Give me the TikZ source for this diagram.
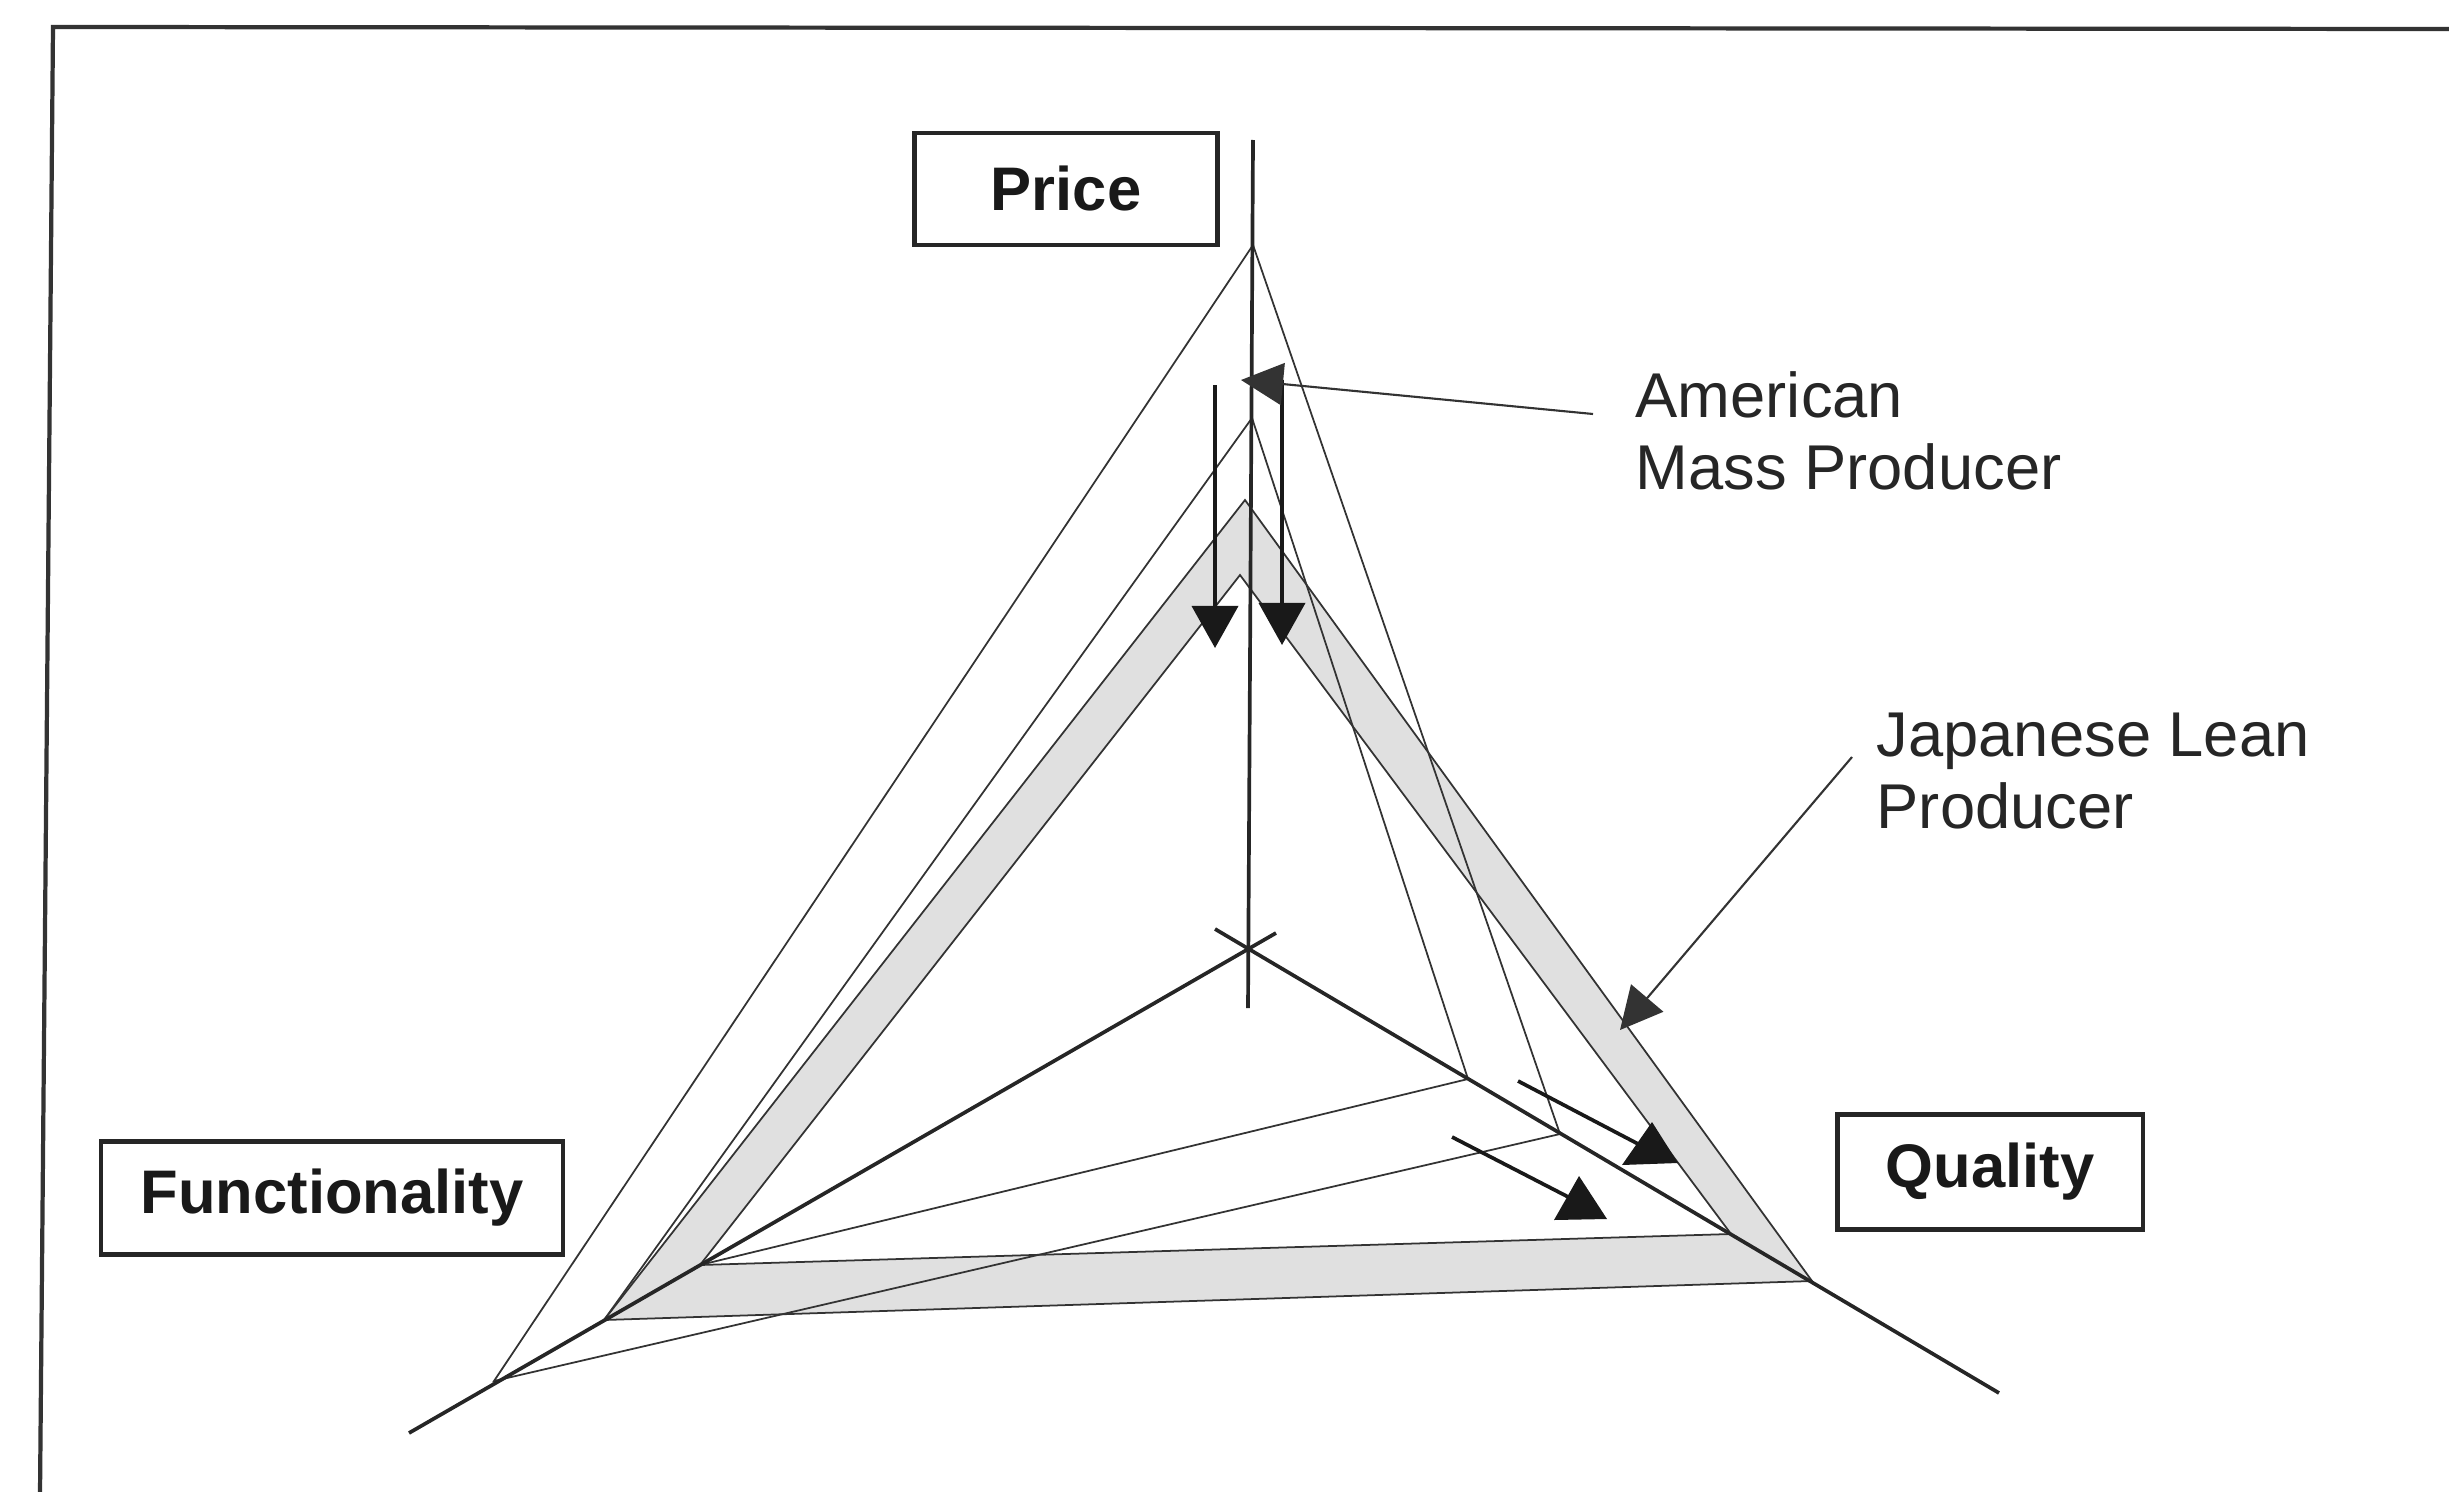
\documentclass[tikz,border=0pt]{standalone}
\usepackage{fontspec}
\setmainfont{Liberation Sans}
\usetikzlibrary{arrows.meta}
\begin{document}
\begin{tikzpicture}[x=0.01cm,y=-0.01cm,
  axisline/.style={line width=1.05pt, black!85},
  thinline/.style={line width=0.5pt, black!80},
  bandfill/.style={fill=black!12},
  labelbox/.style={draw, line width=1.2pt, black!85, text=black!90,
    font=\bfseries\fontsize{17.5}{20}\selectfont, inner sep=0pt},
  legend/.style={font=\fontsize{18}{20.5}\selectfont, text=black!85,
    align=left, anchor=north west, inner sep=0pt},
  bigtip/.style={line width=1.05pt, black!90,
    -{Triangle[width=0.46cm,length=0.42cm]}},
  shaft/.style={line width=1.05pt, black!90},
  headfill/.style={fill=black!90},
  pointer/.style={line width=0.6pt, black!80,
    -{Triangle[width=0.42cm,length=0.42cm]}},
]
\useasboundingbox (0,0) rectangle (2449,1491);

% outer frame (only top and left edges fall inside the page)
\draw[line width=1.2pt, black!80] (40,1495) -- (53,27) -- (2455,29);

% axis end points
\coordinate (O) at (1248,949);
\coordinate (Ptop) at (1253,140);
\coordinate (Pbot) at (1248,1008);
\coordinate (Fend) at (409,1433);
\coordinate (Fext) at (1276,933);
\coordinate (Qend) at (1999,1393);
\coordinate (Qext) at (1215,929);

% profile vertices on the three axes
\coordinate (PA) at (1253,245);
\coordinate (FA) at (494,1381);
\coordinate (QA) at (1560,1134);
\coordinate (PB) at (1252,418);
\coordinate (FB) at (700,1265);
\coordinate (QB) at (1468,1079);
\coordinate (JP1) at (1245,500);
\coordinate (JF1) at (604,1320);
\coordinate (JQ1) at (1812,1281);
\coordinate (JP2) at (1240,575);
\coordinate (JF2) at (700,1265);
\coordinate (JQ2) at (1731,1234);

% shaded band between the two lean-producer profiles
\fill[bandfill, even odd rule]
  (JP1) -- (JF1) -- (JQ1) -- cycle
  (JP2) -- (JF2) -- (JQ2) -- cycle;
\draw[thinline] (JP1) -- (JF1) -- (JQ1) -- cycle;
\draw[thinline] (JP2) -- (JF2) -- (JQ2) -- cycle;

% mass-producer profiles
\draw[thinline] (PA) -- (FA) -- (QA) -- cycle;
\draw[thinline] (JF1) -- (PB) -- (QB) -- (FB);

% axes
\draw[axisline] (Ptop) -- (Pbot);
\draw[axisline] (Fend) -- (Fext);
\draw[axisline] (Qend) -- (Qext);

% axis labels
\node[labelbox, minimum width=3.03cm, minimum height=1.12cm] (price) at (1066,189) {Price};
\node[labelbox, minimum width=4.61cm, minimum height=1.13cm] (func) at (332,1198) {Functionality};
\node[labelbox, minimum width=3.05cm, minimum height=1.15cm] (qual) at (1990,1172) {Quality};

% downward shift arrows along the price axis
\coordinate (a1s) at (1215,385);  \coordinate (a1e) at (1215,648);
\coordinate (a2s) at (1282,380);  \coordinate (a2e) at (1282,645);
\draw[bigtip] (a1s) -- (a1e);
\draw[bigtip] (a2s) -- (a2e);

% shift arrows towards quality, with upright triangular heads
\coordinate (a3s) at (1518,1081); \coordinate (a3e) at (1642,1146);
\coordinate (a4s) at (1452,1137); \coordinate (a4e) at (1578,1202);
\draw[shaft] (a3s) -- (a3e);
\draw[shaft] (a4s) -- (a4e);
\fill[headfill] (1622,1165) -- (1678,1163) -- (1652,1122) -- cycle;
\fill[headfill] (1554,1220) -- (1607,1219) -- (1579,1176) -- cycle;

% legend texts with pointers
\node[legend] (amer) at (1635,371) {American\\Mass Producer};
\node[legend] (jap) at (1876,712) {Japanese Lean\\Producer};
\coordinate (amerTail) at (1593,414);
\coordinate (amerTip) at (1241,380);
\coordinate (japTail) at (1852,757);
\coordinate (japTip) at (1620,1030);
\draw[pointer] (amerTail) -- (amerTip);
\draw[pointer] (japTail) -- (japTip);
\end{tikzpicture}
\end{document}
